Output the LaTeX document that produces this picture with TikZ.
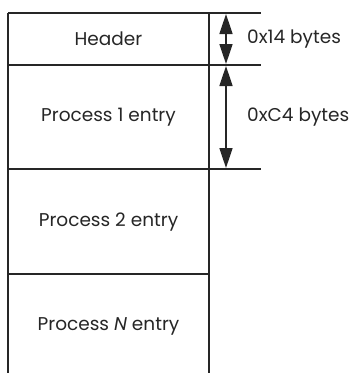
\documentclass[tikz,border=0pt]{standalone}
\usepackage{fontspec}
\setmainfont{Poppins}
\usetikzlibrary{arrows.meta}
\begin{document}
\begin{tikzpicture}[x=1pt,y=-1pt,
  line/.style={line width=1.6pt,draw=black!85},
  lbl/.style={font=\fontsize{18.5}{21}\selectfont,text=black!85,inner sep=0pt},
  dim/.style={line width=1.6pt,draw=black!85,{Triangle[length=20pt,width=13pt]}-{Triangle[length=20pt,width=13pt]},shorten <=0pt,shorten >=0pt}]
\useasboundingbox (0,0) rectangle (353,373);
% frame
\draw[line] (8,13) -- (261,13);
\draw[line] (8,65) -- (261,65);
\draw[line] (8,169) -- (261,169);
\draw[line] (8,274) -- (209,274);
\draw[line] (8,13) -- (8,373);
\draw[line] (209,13) -- (209,373);
% texts
\node[lbl] (hdr) at (108.5,39) {Header};
\node[lbl] (p1) at (108.5,117) {Process 1 entry};
\node[lbl] (p2) at (108.5,222) {Process 2 entry};
\node[lbl] (pn) at (108.5,326) {Process \textit{N} entry};
% dimension arrows
\coordinate (a1) at (226,14);
\coordinate (a2) at (226,64);
\coordinate (b1) at (226,66);
\coordinate (b2) at (226,168);
\draw[dim] (a1) -- (a2);
\draw[dim] (b1) -- (b2);
\node[lbl,anchor=west] (s1) at (247,39) {0x14 bytes};
\node[lbl,anchor=west] (s2) at (247,117) {0xC4 bytes};
\end{tikzpicture}
\end{document}
